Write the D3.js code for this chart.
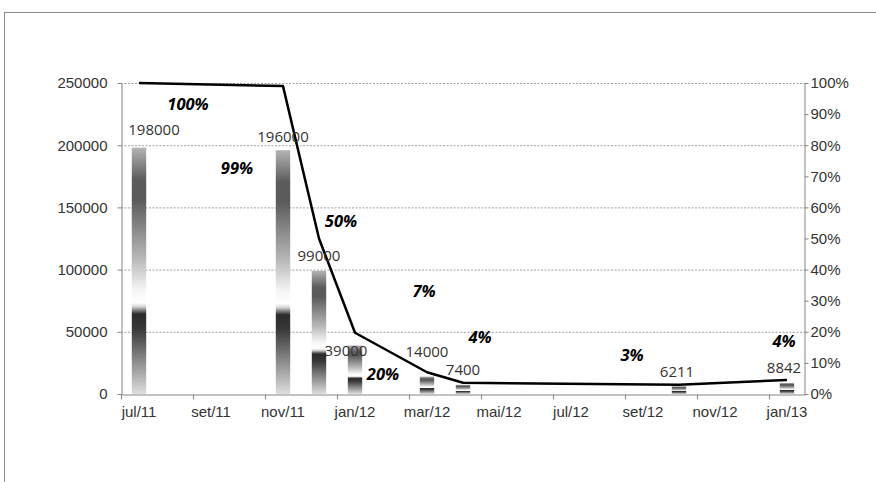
<!DOCTYPE html>
<html>
<head>
<meta charset="utf-8">
<script src="https://cdn.jsdelivr.net/npm/d3@7"></script>
<style>
body { margin: 0; background: #fff; }
svg { display: block; font-family: "Open Sans", "Noto Sans", sans-serif; }
</style>
</head>
<body>
<svg width="876" height="482"></svg>
<script>

const months = ["jul/11", "ago/11", "set/11", "out/11", "nov/11", "dez/11", "jan/12", "fev/12",
    "mar/12", "abr/12", "mai/12", "jun/12", "jul/12", "ago/12", "set/12", "out/12", "nov/12", "dez/12", "jan/13"]
const tickMonths = months.filter((d, i) => i % 2 == 0)

const barMonths = ["jul/11", "nov/11", "dez/11", "jan/12", "mar/12", "abr/12", "out/12", "jan/13"]
const barValues = [198000, 196000, 99000, 39000, 14000, 7400, 6211, 8842]
const shareValues = [1.00, 0.99, 0.50, 0.197, 0.07, 0.036, 0.03, 0.045]
const shareLabels = ["100%", "99%", "50%", "20%", "7%", "4%", "3%", "4%"]

const leftTicks = [0, 50000, 100000, 150000, 200000, 250000]
const rightTicks = [0, 0.1, 0.2, 0.3, 0.4, 0.5, 0.6, 0.7, 0.8, 0.9, 1]

// hand-moved label offsets (px) as in the original
const valueShift = [[15, -13], [0, -8], [0, -10], [-9, 11], [0, -20], [0, -10], [-2, -9], [-3, -10]]
const shareShift = [[49, 27], [-46, 88], [22, -12], [28, 47], [-3, -75], [17, -40], [-47, -24], [-3, -33]]

const svg = d3.select("svg")

// outer chart frame
svg.append("rect")
    .attr("x", 4.5).attr("y", 12.5)
    .attr("width", 1000).attr("height", 1000)
    .attr("fill", "none").attr("stroke", "#8a8a8a")

const plotLeft = 121, plotRight = 805, plotTop = 83, plotBottom = 394

const x = d3.scaleBand().domain(months).range([plotLeft, plotRight])
const y = d3.scaleLinear().domain([0, 250000]).range([plotBottom, plotTop])
const yPct = d3.scaleLinear().domain([0, 1]).range([plotBottom, plotTop])

const barW = x.bandwidth() * 0.4
const cx = m => x(m) + x.bandwidth() / 2

// gradient used by every bar (stretched to the bar)
const grad = svg.append("defs").append("linearGradient")
    .attr("id", "barFill")
    .attr("x1", 0).attr("y1", 0).attr("x2", 0).attr("y2", 1)
const stops = [[0, "#b4b4b4"], [0.13, "#5c5c5c"], [0.21, "#5a5a5a"], [0.45, "#b8b8b8"],
    [0.58, "#f6f6f6"], [0.63, "#ffffff"], [0.645, "#d6d6d6"], [0.675, "#2c2c2c"],
    [0.73, "#363636"], [1, "#dedede"]]
grad.selectAll("stop").data(stops).enter().append("stop")
    .attr("offset", d => d[0]).attr("stop-color", d => d[1])

// gridlines
svg.append("g")
    .selectAll("line")
    .data(leftTicks.slice(1))
    .enter()
    .append("line")
    .attr("x1", plotLeft).attr("x2", plotRight)
    .attr("y1", d => y(d) + 0.5).attr("y2", d => y(d) + 0.5)
    .attr("stroke", "#a0a0a0")
    .attr("stroke-dasharray", "2,1.5")

// bars
svg.append("g")
    .selectAll("rect")
    .data(barValues)
    .enter()
    .append("rect")
    .attr("x", (d, i) => cx(barMonths[i]) - barW / 2)
    .attr("width", barW)
    .attr("y", d => y(d))
    .attr("height", d => plotBottom - y(d))
    .attr("fill", "url(#barFill)")

// axes
const axisColor = "#868686", textColor = "#333"

const yAxis = svg.append("g")
    .attr("transform", `translate(${plotLeft + 0.5},0)`)
    .call(d3.axisLeft(y).tickValues(leftTicks).tickSize(4).tickPadding(10).tickSizeOuter(0).tickFormat(d3.format("d")))
const yAxisR = svg.append("g")
    .attr("transform", `translate(${plotRight - 0.5},0)`)
    .call(d3.axisRight(yPct).tickValues(rightTicks).tickSize(4).tickPadding(2).tickSizeOuter(0).tickFormat(d3.format(".0%")))
const xAxis = svg.append("g")
    .attr("transform", `translate(0,${plotBottom + 0.5})`)
    .call(d3.axisBottom(x).tickValues(tickMonths).tickSize(0).tickPadding(12).tickSizeOuter(0))

// x tick marks sit at the left edge of each labelled month
xAxis.selectAll(".edge")
    .data(tickMonths)
    .enter()
    .append("line")
    .attr("class", "edge")
    .attr("x1", d => x(d) + 0.5).attr("x2", d => x(d) + 0.5)
    .attr("y1", 0).attr("y2", 5)
    .attr("stroke", axisColor)

for (const g of [yAxis, yAxisR, xAxis]) {
    g.select(".domain").attr("stroke", axisColor)
    g.selectAll(".tick line").attr("stroke", axisColor)
    g.selectAll("text").attr("fill", textColor).style("font-size", "15px")
}

// share line
const line = d3.line()
    .x((d, i) => cx(barMonths[i]))
    .y(d => yPct(d))

svg.append("path")
    .datum(shareValues)
    .attr("d", line)
    .attr("fill", "none")
    .attr("stroke", "#000")
    .attr("stroke-width", 2.5)
    .attr("stroke-linejoin", "round")

// value labels
svg.append("g")
    .selectAll("text")
    .data(barValues)
    .enter()
    .append("text")
    .attr("x", (d, i) => cx(barMonths[i]) + valueShift[i][0])
    .attr("y", (d, i) => y(d) + valueShift[i][1])
    .attr("text-anchor", "middle")
    .attr("fill", textColor)
    .style("font-size", "15px")
    .text(d => d)

// share labels
svg.append("g")
    .selectAll("text")
    .data(shareValues)
    .enter()
    .append("text")
    .attr("x", (d, i) => cx(barMonths[i]) + shareShift[i][0])
    .attr("y", (d, i) => yPct(d) + shareShift[i][1])
    .attr("text-anchor", "middle")
    .attr("fill", "#000")
    .style("font-size", "16.5px")
    .style("font-weight", "bold")
    .style("font-style", "italic")
    .text((d, i) => shareLabels[i])

</script>
</body>
</html>
